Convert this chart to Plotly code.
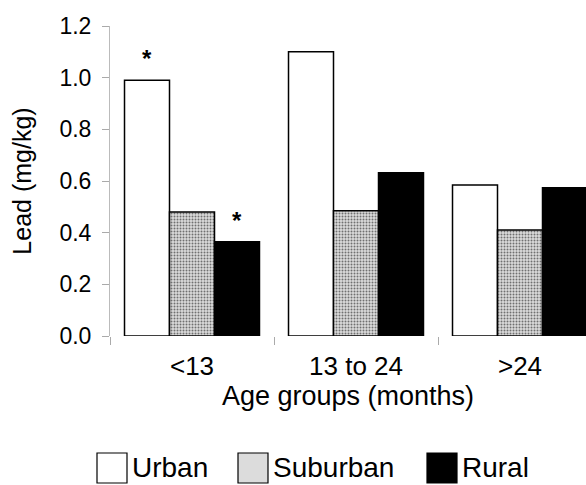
import plotly.graph_objects as go

# ---- data ----
categories = ["<13", "13 to 24", ">24"]
series_names = ["Urban", "Suburban", "Rural"]
urban = [0.99, 1.10, 0.585]
suburban = [0.48, 0.485, 0.41]
rural = [0.365, 0.632, 0.574]
# significance markers (*) : (series, category)
stars = [("Urban", "<13"), ("Rural", "<13")]
y_ticks = [0.0, 0.2, 0.4, 0.6, 0.8, 1.0, 1.2]

# ---- layout constants ----
W, H = 586, 485
ML, MR, MT, MB = 110, 0, 26, 149
PW, PH = W - ML - MR, H - MT - MB
CAT_PX = 164                      # pixels per category
BARGAP = 0.177
FONT = "Liberation Sans, Arial, Helvetica, sans-serif"

fig = go.Figure()
styles = {
    "Urban": dict(color="white"),
    "Suburban": dict(color="#dcdcdc",
                     pattern=dict(shape=".", fgcolor="#707070", bgcolor="#dcdcdc",
                                  size=3, solidity=0.35, fillmode="replace")),
    "Rural": dict(color="black"),
}
values = {"Urban": urban, "Suburban": suburban, "Rural": rural}
for name in series_names:
    fig.add_trace(go.Bar(
        x=categories, y=values[name], name=name,
        marker=dict(**styles[name], line=dict(color="black", width=1.5)),
        showlegend=False, hoverinfo="skip",
    ))

# asterisks
bar_px = CAT_PX * (1 - BARGAP) / len(series_names)
for sname, cat in stars:
    si = series_names.index(sname)
    ci = categories.index(cat)
    fig.add_annotation(
        x=cat, y=values[sname][ci], xref="x", yref="y",
        text="<b>*</b>", showarrow=False, yanchor="bottom",
        xshift=(si - 1) * bar_px, yshift=6,
        font=dict(size=24, color="black", family=FONT),
    )

# manual legend (large square swatches)
def px_x(p):
    return (p - ML) / PW

def px_y(p):
    return (H - MB - p) / PH

legend_items = [("Urban", 97), ("Suburban", 238), ("Rural", 427)]
box = 30
top = 453
for name, left in legend_items:
    st = styles[name]
    fig.add_shape(type="rect", xref="paper", yref="paper",
                  x0=px_x(left), x1=px_x(left + box),
                  y0=px_y(top + box), y1=px_y(top),
                  line=dict(color="black", width=1.2),
                  fillcolor=st["color"])
    fig.add_annotation(
        x=px_x(left + box + 3), y=px_y(top + box / 2 - 1), xref="paper", yref="paper",
        text=name, showarrow=False, xanchor="left", yanchor="middle",
        font=dict(size=28, color="black", family=FONT),
    )

fig.update_layout(
    width=W, height=H,
    margin=dict(l=ML, r=MR, t=MT, b=MB, pad=0),
    paper_bgcolor="white", plot_bgcolor="white",
    barmode="group", bargap=BARGAP, bargroupgap=0,
    font=dict(family=FONT, color="black", size=23),
    showlegend=False,
)
fig.update_xaxes(
    range=[-0.5, -0.5 + PW / CAT_PX],
    tickson="boundaries", ticks="outside", ticklen=8, tickcolor="#aaa",
    tickwidth=1, showline=False, showgrid=False, zeroline=False,
    tickfont=dict(size=26), ticklabelstandoff=12,
    title=dict(text="Age groups (months)", font=dict(size=27), standoff=6),
)
fig.update_yaxes(
    range=[0, 1.2], tickvals=y_ticks, tickformat=".1f",
    ticks="outside", ticklen=7, tickcolor="#aaa", tickwidth=1,
    showline=True, linecolor="#bbbbbb", linewidth=1,
    showgrid=False, zeroline=False,
    tickfont=dict(size=23), ticklabelstandoff=6,
    title=dict(text="Lead (mg/kg)", font=dict(size=25), standoff=20),
)

fig.write_html("out.html", config={"displayModeBar": False},
               post_script="document.body.style.margin='0px';document.body.style.overflow='hidden';")
